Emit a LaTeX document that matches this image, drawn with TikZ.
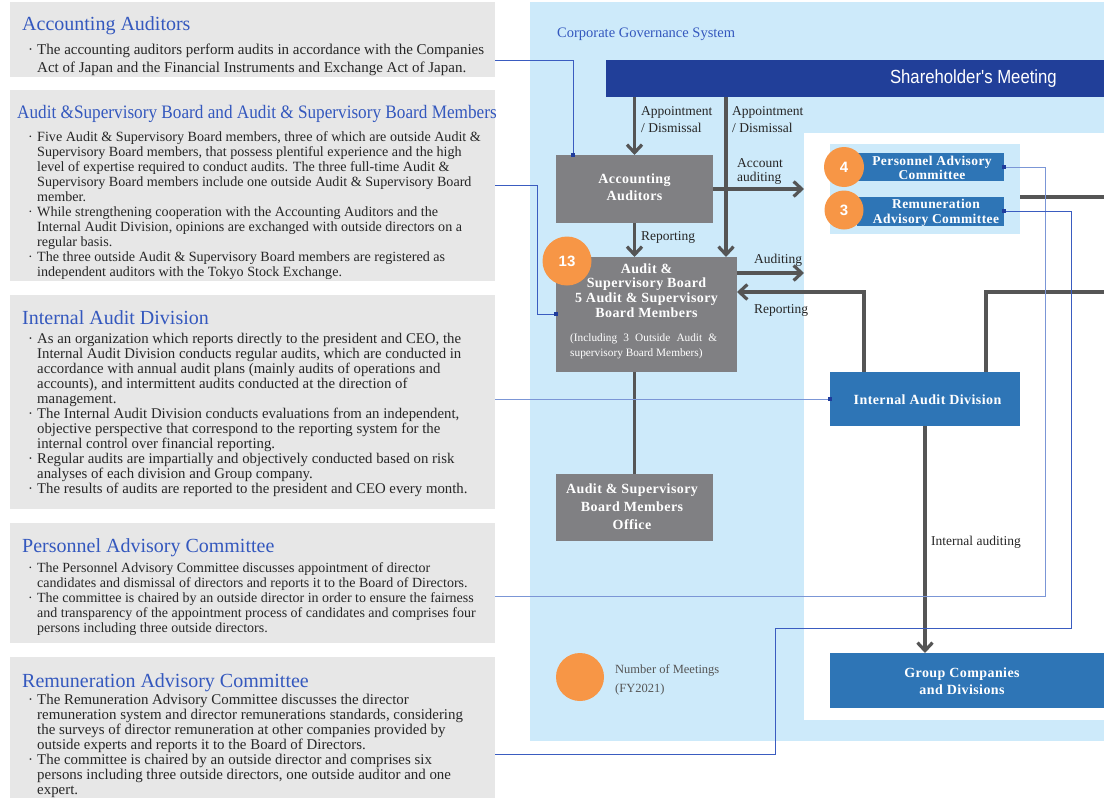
\documentclass[tikz,border=0pt]{standalone}
\usepackage{fontspec}
\usepackage{graphicx}
\setmainfont{Liberation Serif}
\newfontfamily\boxfont{Liberation Serif}[LetterSpace=3.0]
\newfontfamily\sharefont{Liberation Sans}[FakeStretch=0.88]
\newfontfamily\numfont{Liberation Sans}
\usetikzlibrary{arrows.meta}
\pgfdeclarelayer{back}
\pgfdeclarelayer{mid}
\pgfsetlayers{back,mid,main}
\definecolor{panelgray}{HTML}{E7E7E7}
\definecolor{skyblue}{HTML}{CDEAFA}
\definecolor{navy}{HTML}{213F99}
\definecolor{boxgray}{HTML}{808083}
\definecolor{boxblue}{HTML}{2E75B6}
\definecolor{meetorange}{HTML}{F79646}
\definecolor{conngray}{HTML}{555555}
\definecolor{thinblue}{HTML}{3A5CC0}
\definecolor{thinlightblue}{HTML}{7B96D6}
\definecolor{dotblue}{HTML}{1F3C9C}
\definecolor{titleblue}{HTML}{3458BE}
\definecolor{bodytext}{HTML}{262626}
\definecolor{legendtext}{HTML}{555555}
\newcommand{\pbul}{\makebox[9pt][l]{·}}
\newcommand{\pind}{\hspace*{9pt}}
\begin{document}
\begin{tikzpicture}[x=1pt,y=-1pt,
  panel/.style={fill=panelgray, inner sep=0, outer sep=0, anchor=north west},
  graybox/.style={fill=boxgray, inner sep=0, outer sep=0, anchor=north west},
  bluebox/.style={fill=boxblue, inner sep=0, outer sep=0, anchor=north west},
  btext/.style={anchor=north, inner sep=0, align=center, text=white},
  ptitle/.style={anchor=base west, inner sep=0, text=titleblue, font=\fontsize{20}{22}\selectfont},
  pbody/.style={anchor=north west, inner sep=0, align=left, text=bodytext},
  lab/.style={anchor=base west, inner sep=0, text=bodytext, font=\fontsize{13.5}{16}\selectfont},
  meet/.style={circle, fill=meetorange, inner sep=0, outer sep=0, text=white, font=\numfont\bfseries\fontsize{15}{15}\selectfont},
  bluedot/.style={rectangle, fill=dotblue, minimum size=4.5pt, inner sep=0, outer sep=0},
  connline/.style={draw=conngray, line width=3.2pt},
  connarrow/.style={connline, -{Straight Barb[length=8pt,width=15pt]}},
  thinline/.style={draw=thinblue, line width=1pt},
  thinlight/.style={draw=thinlightblue, line width=1pt}
]
\useasboundingbox (0,0) rectangle (1104,798);

\begin{pgfonlayer}{back}
\node[panel, fill=skyblue, minimum width=574, minimum height=739] (bp) at (530,2) {};
\node[panel, fill=white, minimum width=300, minimum height=587] (wp) at (804,133) {};
\node[panel, fill=skyblue, minimum width=190, minimum height=90] (cp) at (830,144) {};
\node[panel, fill=navy, minimum width=498, minimum height=37] (share) at (606,60) {};
\node[panel, minimum width=485, minimum height=75] (p1) at (10,2) {};
\node[panel, minimum width=485, minimum height=191] (p2) at (10,90) {};
\node[panel, minimum width=485, minimum height=214] (p3) at (10,295) {};
\node[panel, minimum width=485, minimum height=120] (p4) at (10,523) {};
\node[panel, minimum width=485, minimum height=141] (p5) at (10,657) {};
\end{pgfonlayer}

% left panels
\node[ptitle] (t1) at (22,30) {Accounting Auditors};
\node[pbody, font=\fontsize{15}{18}\selectfont] (b1) at (28,41.4) {\strut\pbul The accounting auditors perform audits in accordance with the Companies\\
\pind Act of Japan and the Financial Instruments and Exchange Act of Japan.};

\node[ptitle, font=\fontsize{19}{22}\selectfont] (t2) at (17,118) {\scalebox{0.905}[1]{Audit \&Supervisory Board and Audit \& Supervisory Board Members}};
\node[pbody, font=\fontsize{14.1}{15}\selectfont] (b2) at (28,130.5) {\strut\pbul Five Audit \& Supervisory Board members, three of which are outside Audit \&\\
\pind Supervisory Board members, that possess plentiful experience and the high\\
\pind level of expertise required to conduct audits. The three full-time Audit \&\\
\pind Supervisory Board members include one outside Audit \& Supervisory Board\\
\pind member.\\
\pbul While strengthening cooperation with the Accounting Auditors and the\\
\pind Internal Audit Division, opinions are exchanged with outside directors on a\\
\pind regular basis.\\
\pbul The three outside Audit \& Supervisory Board members are registered as\\
\pind independent auditors with the Tokyo Stock Exchange.};

\node[ptitle] (t3) at (22,324) {Internal Audit Division};
\node[pbody, font=\fontsize{14.8}{15}\selectfont] (b3) at (28,332.5) {\strut\pbul As an organization which reports directly to the president and CEO, the\\
\pind Internal Audit Division conducts regular audits, which are conducted in\\
\pind accordance with annual audit plans (mainly audits of operations and\\
\pind accounts), and intermittent audits conducted at the direction of\\
\pind management.\\
\pbul The Internal Audit Division conducts evaluations from an independent,\\
\pind objective perspective that correspond to the reporting system for the\\
\pind internal control over financial reporting.\\
\pbul Regular audits are impartially and objectively conducted based on risk\\
\pind analyses of each division and Group company.\\
\pbul The results of audits are reported to the president and CEO every month.};

\node[ptitle] (t4) at (22,552) {Personnel Advisory Committee};
\node[pbody, font=\fontsize{14}{15}\selectfont] (b4) at (28,561.5) {\strut\pbul The Personnel Advisory Committee discusses appointment of director\\
\pind candidates and dismissal of directors and reports it to the Board of Directors.\\
\pbul The committee is chaired by an outside director in order to ensure the fairness\\
\pind and transparency of the appointment process of candidates and comprises four\\
\pind persons including three outside directors.};

\node[ptitle] (t5) at (22,687) {Remuneration Advisory Committee};
\node[pbody, font=\fontsize{14.9}{15}\selectfont] (b5) at (28,693.5) {\strut\pbul The Remuneration Advisory Committee discusses the director\\
\pind remuneration system and director remunerations standards, considering\\
\pind the surveys of director remuneration at other companies provided by\\
\pind outside experts and reports it to the Board of Directors.\\
\pbul The committee is chaired by an outside director and comprises six\\
\pind persons including three outside directors, one outside auditor and one\\
\pind expert.};

% right side
\node[anchor=base west, inner sep=0, text=titleblue, font=\fontsize{14.5}{16}\selectfont] (cgs) at (557,37) {Corporate Governance System};
\node[anchor=base east, inner sep=0, text=white, font=\sharefont\fontsize{19}{22}\selectfont] (shareT) at (1057,83) {Shareholder's Meeting};

\node[graybox, minimum width=157, minimum height=68] (aa) at (556,155) {};
\node[graybox, minimum width=181, minimum height=115] (asb) at (556,257) {};
\node[graybox, minimum width=157, minimum height=67] (office) at (556,474) {};
\node[bluebox, minimum width=147, minimum height=28] (pac) at (857,153) {};
\node[bluebox, minimum width=147, minimum height=29] (rac) at (857,197) {};
\node[bluebox, minimum width=190, minimum height=54] (iad) at (830,372) {};
\node[bluebox, minimum width=274, minimum height=55] (grp) at (830,653) {};

\node[btext, font=\boxfont\bfseries\fontsize{14}{17}\selectfont] (aaT) at (634.5,171.1) {\strut Accounting\\Auditors};
\node[btext, font=\boxfont\bfseries\fontsize{14}{14.7}\selectfont] (asbT) at (646.5,262.7) {\strut Audit \&\\Supervisory Board\\5 Audit \& Supervisory\\Board Members};
\node[anchor=north west, inner sep=0, align=left, text=white, font=\fontsize{11.3}{15}\selectfont] (asbS) at (570,330.5) {\strut\makebox[147pt][s]{(Including 3 Outside Audit \&}\\supervisory Board Members)};
\node[btext, font=\boxfont\bfseries\fontsize{14}{18}\selectfont] (officeT) at (632,480.4) {\strut Audit \& Supervisory\\Board Members\\Office};
\node[btext, font=\boxfont\bfseries\fontsize{13.5}{12.5}\selectfont] (pacT) at (932,156.2) {\strut Personnel Advisory\\Committee};
\node[btext, font=\boxfont\bfseries\fontsize{13.5}{15}\selectfont] (racT) at (936,197.5) {\strut Remuneration\\Advisory Committee};
\node[btext, font=\boxfont\bfseries\fontsize{14}{17}\selectfont] (iadT) at (927.5,392.1) {\strut Internal Audit Division};
\node[btext, font=\boxfont\bfseries\fontsize{14}{17}\selectfont] (grpT) at (962,665.1) {\strut Group Companies\\and Divisions};

\node[meet, minimum size=49pt] (m13) at (567,261) {13};
\node[meet, minimum size=40pt] (m4) at (844,167) {4};
\node[meet, minimum size=39pt] (m3) at (844,210) {3};
\node[meet, minimum size=48pt] (mleg) at (580,677) {};

\node[lab] (lA1) at (641,115) {Appointment};
\node[lab] (lA2) at (641,132) {/ Dismissal};
\node[lab] (lB1) at (732,115) {Appointment};
\node[lab] (lB2) at (732,132) {/ Dismissal};
\node[lab] (lC1) at (737,167) {Account};
\node[lab] (lC2) at (737,181) {auditing};
\node[lab] (lD) at (641,240) {Reporting};
\node[lab] (lE) at (754,263) {Auditing};
\node[lab] (lF) at (754,313) {Reporting};
\node[lab] (lG) at (931,545) {Internal auditing};
\node[lab, text=legendtext, font=\fontsize{12.5}{15}\selectfont] (lH1) at (615,673) {Number of Meetings};
\node[lab, text=legendtext, font=\fontsize{12.5}{15}\selectfont] (lH2) at (615,692) {(FY2021)};

\node[bluedot] (dA) at (573,155) {};
\node[bluedot] (dB) at (556,314) {};
\node[bluedot] (dC) at (830,399) {};
\node[bluedot] (dD) at (1004,167) {};
\node[bluedot] (dE) at (1004,211) {};

\begin{pgfonlayer}{mid}
\coordinate (vx) at (726,0);
\coordinate (ay) at (0,273);
\coordinate (rx) at (864,0);
\coordinate (ry) at (0,292);
\coordinate (rx2) at (986,0);
\coordinate (edgeR) at (1104,292);
\coordinate (edgeC) at (1104,197);
\draw[connarrow] (share.south -| aa.north) -- (aa.north);
\draw[connarrow] (share.south -| vx) -- (asb.north -| vx);
\draw[connarrow] (aa.east) -- (wp.west |- aa.east);
\draw[connarrow] (aa.south) -- (aa.south |- asb.north);
\draw[connarrow] (asb.east |- ay) -- (wp.west |- ay);
\draw[connarrow] (iad.north -| rx) |- (asb.east |- ry);
\draw[connline] (iad.north -| rx2) |- (edgeR);
\draw[connline] (cp.east |- edgeC) -- (edgeC);
\draw[connline] (asb.south -| office.north) -- (office.north);
\draw[connarrow] (iad.south) -- (iad.south |- grp.north);

\draw[thinline] (p1.east |- 0,60) -| (dA);
\draw[thinline] (p2.east |- 0,185) -| (537,314) -- (dB);
\draw[thinlight] (p3.east |- dC) -- (dC);
\draw[thinlight] (dD) -| (1045,596) -- (p4.east |- 0,596);
\draw[thinline] (dE) -| (1071,628) -| (775,754) -- (p5.east |- 0,754);
\end{pgfonlayer}
\end{tikzpicture}
\end{document}
